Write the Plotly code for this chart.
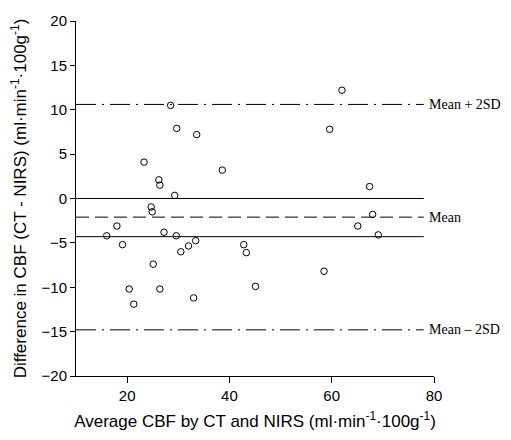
import plotly.graph_objects as go

avg_cbf = [28.5, 29.7, 33.6, 23.3, 38.6, 26.2, 26.4, 29.3, 24.7, 24.9,
           62.0, 59.6, 67.4, 68.0,
           16.0, 18.0, 19.1, 25.1, 20.4, 21.3, 26.4, 27.2, 29.6, 30.5,
           32.0, 33.4, 33.0, 42.8, 43.3, 45.1, 58.5, 65.1, 69.1]
diff_cbf = [10.5, 7.9, 7.2, 4.1, 3.2, 2.1, 1.5, 0.35, -0.95, -1.5,
            12.2, 7.8, 1.35, -1.8,
            -4.2, -3.1, -5.2, -7.4, -10.2, -11.9, -10.2, -3.8, -4.2, -6.0,
            -5.35, -4.75, -11.2, -5.2, -6.1, -9.9, -8.2, -3.1, -4.1]

line_x = [10, 78]
mean_plus = 10.6
mean_val = -2.1
mean_minus = -14.8
zero_line = 0.0
lower_solid = -4.3

fig = go.Figure()
blk = "black"
fig.add_trace(go.Scatter(x=line_x, y=[mean_plus]*2, mode="lines",
                         line=dict(color=blk, width=1, dash="20px,6px,2px,6px")))
fig.add_trace(go.Scatter(x=line_x, y=[zero_line]*2, mode="lines",
                         line=dict(color=blk, width=1)))
fig.add_trace(go.Scatter(x=line_x, y=[mean_val]*2, mode="lines",
                         line=dict(color=blk, width=1, dash="13px,6px")))
fig.add_trace(go.Scatter(x=line_x, y=[lower_solid]*2, mode="lines",
                         line=dict(color=blk, width=1)))
fig.add_trace(go.Scatter(x=line_x, y=[mean_minus]*2, mode="lines",
                         line=dict(color=blk, width=1, dash="20px,6px,2px,6px")))
fig.add_trace(go.Scatter(x=avg_cbf, y=diff_cbf, mode="markers",
                         marker=dict(symbol="circle-open", size=6.5,
                                     color=blk, line=dict(width=1, color=blk))))

labels = [("Mean + 2SD", mean_plus), ("Mean", mean_val), ("Mean \u2013 2SD", mean_minus)]
for txt, yv in labels:
    fig.add_annotation(x=78.6, y=yv, xref="x", yref="y", text=txt, showarrow=False,
                       xanchor="left", yanchor="middle",
                       font=dict(family="Liberation Serif", size=14, color=blk))

fig.update_layout(
    width=511, height=440,
    margin=dict(l=76, r=77, t=15, b=63),
    paper_bgcolor="white", plot_bgcolor="white",
    showlegend=False,
    font=dict(family="Liberation Sans", size=14, color=blk),
)
fig.update_xaxes(range=[10, 80], tickvals=[20, 40, 60, 80], showgrid=False, zeroline=False,
                 showline=True, linecolor=blk, linewidth=1, ticks="outside", ticklen=6,
                 tickcolor=blk, tickfont=dict(size=15),
                 title=dict(text="Average CBF by CT and NIRS (ml\u00b7min<sup>-1</sup>\u00b7100g<sup>-1</sup>)",
                            font=dict(size=17), standoff=12))
fig.update_yaxes(range=[-20, 20], tickvals=list(range(-20, 21, 5)), showgrid=False, zeroline=False,
                 showline=True, linecolor=blk, linewidth=1, ticks="outside", ticklen=5,
                 tickcolor=blk, tickfont=dict(size=15),
                 title=dict(text="Difference in CBF (CT - NIRS) (ml\u00b7min<sup>-1</sup>\u00b7100g<sup>-1</sup>)",
                            font=dict(size=17), standoff=10))

fig.write_html("out.html")
